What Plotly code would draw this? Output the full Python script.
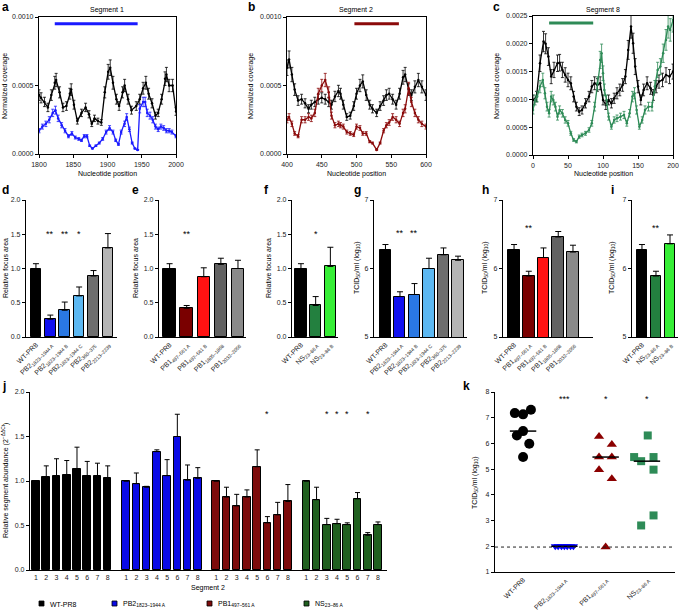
import numpy as np
import plotly.graph_objects as go

W, H = 679, 611
FONT = 'Liberation Sans'

#------------------------------------------------------------------
# a-c : normalized coverage (values x 1e-4)
#------------------------------------------------------------------
seg1_pos = [1800, 1803, 1808, 1813, 1818, 1823, 1825, 1830, 1835, 1840, 1845, 1847, 1851, 1856, 1862,
            1868, 1873, 1877, 1881, 1886, 1891, 1896, 1901, 1904, 1908, 1913, 1917, 1922, 1925, 1930,
            1935, 1942, 1947, 1952, 1956, 1960, 1965, 1970, 1974, 1979, 1984, 1986, 1990, 1995, 2000]
seg1_wt = [4.3, 4.1, 3.8, 3.4, 4.3, 5.2, 5.4, 4.5, 3.4, 3.5, 4.4, 4.7, 3.6, 2.4, 3.0,
           3.4, 2.9, 2.2, 2.6, 2.4, 2.3, 4.5, 6.0, 6.3, 5.2, 4.0, 3.5, 4.5, 5.0, 4.0,
           3.2, 3.5, 4.0, 4.8, 5.2, 4.4, 3.7, 2.8, 3.0, 4.0, 5.5, 5.8, 5.0, 5.0, 3.1]
seg1_mut_pos = [1800, 1805, 1810, 1815, 1820, 1824, 1828, 1833, 1838, 1843, 1848, 1853, 1858, 1862, 1866,
                1870, 1874, 1878, 1883, 1888, 1893, 1898, 1903, 1908, 1912, 1916, 1920, 1925, 1928, 1932,
                1936, 1940, 1944, 1947, 1952, 1955, 1958, 1962, 1966, 1970, 1974, 1978, 1982, 1986, 1990,
                1994, 2000]
seg1_mut = [1.7, 2.0, 2.2, 2.5, 3.0, 3.2, 2.6, 2.1, 1.7, 1.3, 1.5, 1.2, 1.1, 1.0, 1.3,
            1.3, 0.6, 0.4, 0.6, 0.8, 1.1, 1.6, 1.9, 1.6, 1.0, 0.7, 1.6, 2.2, 2.7, 1.8,
            0.8, 0.4, 0.3, 3.3, 3.8, 3.8, 3.0, 2.8, 2.5, 2.0, 1.8, 2.0, 1.9, 1.7, 1.7,
            1.6, 1.3]

seg2_pos = [400, 403, 407, 411, 416, 421, 426, 431, 435, 440, 445, 450, 455, 460, 464,
            469, 474, 477, 481, 486, 491, 496, 500, 505, 509, 514, 519, 523, 529, 534,
            539, 543, 547, 552, 557, 562, 567, 570, 575, 579, 584, 589, 594, 600]
seg2_wt = [6.3, 6.9, 5.8, 4.7, 3.9, 4.0, 3.7, 3.3, 3.6, 3.8, 4.0, 4.1, 4.0, 3.8, 3.6,
           4.2, 4.6, 4.4, 3.6, 2.7, 2.8, 3.5, 4.4, 5.0, 5.3, 4.3, 3.6, 3.3, 3.0, 3.5,
           3.9, 4.3, 4.4, 4.0, 3.6, 4.4, 5.6, 5.8, 4.7, 4.3, 4.9, 5.4, 4.9, 4.3]
seg2_mut = [2.5, 2.7, 2.2, 1.5, 1.3, 2.5, 2.5, 2.7, 2.6, 3.0, 4.4, 5.0, 5.4, 4.5, 2.8,
            2.1, 2.2, 2.1, 2.0, 1.6, 1.5, 1.4, 2.0, 1.9, 1.5, 1.5, 0.9, 0.8, 0.3, 0.8,
            1.7, 2.1, 2.3, 2.7, 2.5, 2.2, 3.0, 3.3, 4.8, 3.8, 3.0, 2.5, 2.2, 2.0]

seg8_pos = [0, 5, 10, 15, 18, 22, 26, 30, 35, 38, 42, 46, 50, 54, 58,
            62, 66, 70, 75, 80, 84, 88, 92, 96, 100, 104, 108, 112, 116, 120,
            124, 128, 132, 136, 140, 143, 146, 150, 154, 158, 163, 168, 172, 176, 180,
            185, 190, 195, 200]
seg8_wt = [9.9, 10.5, 16.5, 20.4, 20.0, 17.7, 14.1, 15.3, 16.5, 16.6, 15.3, 14.4, 13.5, 12.9, 10.5,
           8.7, 7.8, 8.1, 9.3, 10.5, 12.3, 12.9, 12.6, 12.9, 9.9, 9.0, 9.9, 9.3, 10.2, 11.1,
           11.7, 12.6, 14.1, 18.9, 23.1, 20.1, 15.9, 12.3, 9.9, 11.7, 12.9, 12.0, 10.8, 12.3, 13.2,
           13.5, 14.4, 14.1, 15.0]
seg8_mut_pos = [0, 3, 6, 10, 14, 17, 20, 23, 26, 29, 32, 35, 38, 42, 46,
                50, 54, 58, 62, 66, 70, 75, 80, 84, 88, 92, 96, 98, 100, 102,
                105, 108, 112, 116, 120, 125, 130, 134, 138, 142, 145, 148, 152, 156, 160,
                165, 170, 174, 178, 182, 186, 190, 193, 196, 200]
seg8_mut = [8.1, 9.9, 10.5, 12.3, 13.5, 11.1, 8.7, 7.5, 10.5, 9.9, 8.7, 6.9, 8.1, 7.5, 6.3,
            5.7, 3.9, 2.7, 2.4, 3.3, 3.6, 3.9, 4.5, 5.7, 8.7, 12.9, 17.1, 18.3, 14.7, 11.7,
            9.9, 6.9, 5.1, 6.3, 6.6, 6.9, 7.2, 5.7, 7.5, 10.5, 11.1, 8.1, 5.1, 6.3, 8.1,
            8.7, 8.7, 12.3, 15.3, 15.9, 18.3, 20.7, 23.1, 22.5, 24.3]

# mutated regions (nt)
seg1_region = [1823, 1944]
seg2_region = [497, 561]
seg8_region = [23, 86]

#------------------------------------------------------------------
# d-i : focus area and titres
#------------------------------------------------------------------
pb2_names = ['WT-PR8', 'PB2<sub>1823–1944 A</sub>', 'PB2<sub>1823–1944 B</sub>',
             'PB2<sub>1823–1944 C</sub>', 'PB2<sub>360–375</sub>', 'PB2<sub>2213–2239</sub>']
pb1_names = ['WT-PR8', 'PB1<sub>497–561 A</sub>', 'PB1<sub>497–561 B</sub>',
             'PB1<sub>1805–1868</sub>', 'PB1<sub>2032–2056</sub>']
ns_names = ['WT-PR8', 'NS<sub>23–86 A</sub>', 'NS<sub>23–86 B</sub>']

focus_pb2 = [1.00, 0.26, 0.39, 0.60, 0.89, 1.30]
focus_pb2_err = [0.07, 0.06, 0.12, 0.13, 0.08, 0.21]
focus_pb2_sig = ['', '**', '**', '*', '', '']
focus_pb1 = [1.00, 0.42, 0.88, 1.06, 1.00]
focus_pb1_err = [0.07, 0.04, 0.13, 0.09, 0.12]
focus_pb1_sig = ['', '**', '', '', '']
focus_ns = [1.00, 0.46, 1.03]
focus_ns_err = [0.07, 0.13, 0.28]
focus_ns_sig = ['', '*', '']

titer_pb2 = [6.27, 5.59, 5.62, 6.00, 6.20, 6.12]
titer_pb2_err = [0.08, 0.07, 0.16, 0.15, 0.10, 0.06]
titer_pb2_sig = ['', '**', '**', '', '', '']
titer_pb1 = [6.27, 5.89, 6.16, 6.46, 6.24]
titer_pb1_err = [0.08, 0.07, 0.14, 0.08, 0.10]
titer_pb1_sig = ['', '**', '', '', '']
titer_ns = [6.27, 5.89, 6.36]
titer_ns_err = [0.08, 0.07, 0.13]
titer_ns_sig = ['', '**', '']

#------------------------------------------------------------------
# j : relative segment abundance
#------------------------------------------------------------------
segments = ['1', '2', '3', '4', '5', '6', '7', '8']
abund_names = ['WT-PR8', 'PB2<sub>1823–1944 A</sub>', 'PB1<sub>497–561 A</sub>', 'NS<sub>23–86 A</sub>']
abund_wt = [1.00, 1.04, 1.06, 1.07, 1.14, 1.06, 1.06, 1.03]
abund_wt_err = [0.0, 0.13, 0.19, 0.16, 0.24, 0.16, 0.14, 0.14]
abund_pb2 = [1.00, 0.97, 0.93, 1.33, 1.06, 1.50, 1.01, 1.03]
abund_pb2_err = [0.0, 0.12, 0.01, 0.02, 0.18, 0.25, 0.17, 0.12]
abund_pb1 = [1.00, 0.82, 0.72, 0.82, 1.16, 0.53, 0.62, 0.77]
abund_pb1_err = [0.0, 0.11, 0.13, 0.08, 0.19, 0.07, 0.14, 0.19]
abund_ns = [1.00, 0.79, 0.51, 0.52, 0.51, 0.80, 0.39, 0.51]
abund_ns_err = [0.0, 0.14, 0.07, 0.05, 0.02, 0.07, 0.03, 0.03]
abund_pb1_sig = ['', '', '', '', '', '*', '', '']
abund_ns_sig = ['', '', '*', '*', '*', '', '*', '']

#------------------------------------------------------------------
# k : titres in mice (log10 TCID50/ml)
#------------------------------------------------------------------
mice_wt = [7.18, 7.13, 7.31, 6.31, 6.48, 5.99, 5.47]
mice_pb2 = [2.0, 2.0, 2.0, 2.0, 2.0, 2.0, 2.0]
mice_pb1 = [6.27, 5.96, 5.47, 5.47, 4.98, 4.63, 1.97]
mice_ns = [6.31, 5.47, 5.31, 5.47, 4.98, 3.20, 2.81]
mice_sig = ['', '***', '*', '*']
detect_limit = 1.97

# horizontal spread of the dots (layout only)
jit_wt = [-0.20, 0.0, 0.19, -0.15, 0.0, 0.15, 0.0]
jit_pb2 = [-0.22, -0.15, -0.07, 0.0, 0.07, 0.15, 0.22]
jit_pb1 = [-0.16, 0.15, -0.16, 0.15, -0.16, 0.15, 0.0]
jit_ns = [0.02, -0.31, -0.14, 0.16, 0.16, 0.16, -0.14]

# colours
C_PB2 = ['black', '#1010f0', '#2a78e4', '#5cb8f2', '#6e6e6e', '#b4b4b4']
C_PB1 = ['black', '#7a0000', '#ff1212', '#626262', '#8a8a8a']
C_NS = ['black', '#23803f', '#36ee36']
C_J = ['black', '#0a0ae6', '#7d0b0b', '#20601f']

#------------------------------------------------------------------
def xd(p):
   return p / W

def yd(p):
   return 1 - p / H

def sfx(n):
   return '' if n == 1 else str(n)

fig = go.Figure()

base = dict(showline=True, linecolor='black', linewidth=1.2, showgrid=False, zeroline=False,
            ticks='outside', ticklen=3, tickwidth=1, tickcolor='black', automargin=False,
            tickfont=dict(family=FONT, size=7, color='#222'), fixedrange=True)

def axes(n, x0, x1, y0, y1, xopt, yopt):
   xa = dict(base); xa.update(domain=[xd(x0), xd(x1)], anchor='y' + sfx(n)); xa.update(xopt)
   ya = dict(base); ya.update(domain=[yd(y1), yd(y0)], anchor='x' + sfx(n)); ya.update(yopt)
   fig.update_layout({'xaxis' + sfx(n): xa, 'yaxis' + sfx(n): ya})

def note(text, x, y, size=7, angle=0, bold=False, xanchor='center'):
   if bold: text = '<b>' + text + '</b>'
   fig.add_annotation(text=text, x=xd(x), y=yd(y), xref='paper', yref='paper', showarrow=False,
                      textangle=angle, xanchor=xanchor, yanchor='middle',
                      font=dict(family=FONT, size=size, color='black'))

#---------------- a-c ----------------
def coverage(n, pos, vals, color):
   fig.add_trace(go.Scatter(x=pos, y=np.array(vals) * 1e-4, mode='lines+markers',
                            line=dict(color=color, width=1.3), marker=dict(size=2.5, color=color),
                            error_y=dict(type='percent', value=9, color=color, thickness=0.8, width=1.5),
                            xaxis='x' + sfx(n), yaxis='y' + sfx(n), showlegend=False))

def region(n, reg, color):
   fig.add_shape(type='line', xref='x' + sfx(n), yref='y' + sfx(n) + ' domain', x0=reg[0], x1=reg[1],
                 y0=0.95, y1=0.95, line=dict(color=color, width=3))

box = dict(mirror=True)
axes(1, 39, 176, 17, 154, dict(box, range=[1800, 2000], tickvals=[1800, 1850, 1900, 1950, 2000]),
     dict(box, range=[0, 0.001], tickvals=[0, 0.0005, 0.001], tickformat='.4f'))
axes(2, 287, 426, 17, 154, dict(box, range=[400, 600], tickvals=[400, 450, 500, 550, 600]),
     dict(box, range=[0, 0.001], tickvals=[0, 0.0005, 0.001], tickformat='.4f'))
axes(3, 533, 673, 16, 155, dict(box, range=[0, 200], tickvals=[0, 50, 100, 150, 200]),
     dict(box, range=[0, 0.0025], tickvals=[0, 0.0005, 0.001, 0.0015, 0.002, 0.0025], tickformat='.4f'))

coverage(1, seg1_pos, seg1_wt, 'black')
coverage(1, seg1_mut_pos, seg1_mut, '#1a1aff')
coverage(2, seg2_pos, seg2_wt, 'black')
coverage(2, seg2_pos, seg2_mut, '#8b0a0a')
coverage(3, seg8_pos, seg8_wt, 'black')
coverage(3, seg8_mut_pos, seg8_mut, '#2e8b57')
region(1, seg1_region, '#1a1aff')
region(2, seg2_region, '#8b0a0a')
region(3, seg8_region, '#2e8b57')

for (cx, t) in [(107, 'Segment 1'), (356, 'Segment 2'), (603, 'Segment 8')]:
   note(t, cx, 10)
   note('Nucleotide position', cx, 174)
for xx in [5, 251, 497]:
   note('Normalized coverage', xx, 86, angle=-90)

#---------------- d-i ----------------
def bars(n, vals, errs, colors, sig, width, star_y):
   fig.add_trace(go.Bar(x=list(range(len(vals))), y=vals, width=width,
                        marker=dict(color=colors, line=dict(color='black', width=1)),
                        error_y=dict(type='data', array=errs, arrayminus=[0] * len(vals), symmetric=False,
                                     color='black', thickness=1, width=3),
                        xaxis='x' + sfx(n), yaxis='y' + sfx(n), showlegend=False))
   for i, s in enumerate(sig):
      if s:
         fig.add_annotation(text=s, x=i, y=star_y, xref='x' + sfx(n), yref='y' + sfx(n), showarrow=False,
                            font=dict(family=FONT, size=9, color='black'))

def cat_x(names, rng):
   return dict(range=rng, tickvals=list(range(len(names))), ticktext=names, tickangle=-45, ticks='')

focus_y = dict(range=[0, 2], tickvals=[0, 0.5, 1.0, 1.5, 2.0], tickformat='.1f')
titer_y = dict(range=[5, 7], tickvals=[5, 6, 7])

axes(4, 26, 117, 200, 337, cat_x(pb2_names, [-0.69, 5.63]), focus_y)
axes(5, 159, 246, 200, 337, cat_x(pb1_names, [-0.62, 4.47]), focus_y)
axes(6, 292, 338, 200, 337, cat_x(ns_names, [-0.61, 2.52]), focus_y)
axes(7, 374, 467, 200, 337, cat_x(pb2_names, [-0.79, 5.62]), titer_y)
axes(8, 503, 593, 200, 337, cat_x(pb1_names, [-0.75, 5.36]), titer_y)
axes(9, 632, 678, 200, 337, cat_x(ns_names, [-0.71, 2.57]), titer_y)

bars(4, focus_pb2, focus_pb2_err, C_PB2, focus_pb2_sig, 0.74, 1.5)
bars(5, focus_pb1, focus_pb1_err, C_PB1, focus_pb1_sig, 0.73, 1.5)
bars(6, focus_ns, focus_ns_err, C_NS, focus_ns_sig, 0.78, 1.5)
bars(7, titer_pb2, titer_pb2_err, C_PB2, titer_pb2_sig, 0.76, 6.52)
bars(8, titer_pb1, titer_pb1_err, C_PB1, titer_pb1_sig, 0.78, 6.59)
bars(9, titer_ns, titer_ns_err, C_NS, titer_ns_sig, 0.75, 6.59)

for xx in [5, 135, 268]:
   note('Relative focus area', xx, 268, angle=-90)
for xx in [357, 485, 612]:
   note('TCID<sub>50</sub>/ml (log<sub>10</sub>)', xx, 268, angle=-90)

#---------------- j ----------------
GAP = 8.8
jpos = [[g * GAP + k for k in range(len(segments))] for g in range(4)]
axes(10, 30, 387, 392, 570,
     dict(range=[-0.59, 34.28], tickvals=sum(jpos, []), ticktext=segments * 4, ticks=''),
     dict(range=[0, 2], tickvals=[0, 0.5, 1.0, 1.5, 2.0], tickformat='.1f'))

groups = [(abund_wt, abund_wt_err, None), (abund_pb2, abund_pb2_err, None),
          (abund_pb1, abund_pb1_err, abund_pb1_sig), (abund_ns, abund_ns_err, abund_ns_sig)]
for g, (vals, errs, sig) in enumerate(groups):
   fig.add_trace(go.Bar(x=jpos[g], y=vals, width=0.74,
                        marker=dict(color=C_J[g], line=dict(color='black', width=1)),
                        error_y=dict(type='data', array=errs, arrayminus=[0] * len(vals), symmetric=False,
                                     color='black', thickness=1, width=2.5),
                        xaxis='x10', yaxis='y10', showlegend=False))
   if sig:
      for k, s in enumerate(sig):
         if s:
            fig.add_annotation(text=s, x=jpos[g][k], y=1.75, xref='x10', yref='y10', showarrow=False,
                               font=dict(family=FONT, size=9, color='black'))

note('Segment 2', 208, 588)
note('Relative segment abundance (2<sup>−ΔΔCt</sup>)', 5, 481, angle=-90)

# legend of j
for (sx, name, col) in zip([39, 112, 207, 304], abund_names, C_J):
   fig.add_shape(type='rect', xref='paper', yref='paper', x0=xd(sx), x1=xd(sx + 5),
                 y0=yd(606), y1=yd(601), fillcolor=col, line=dict(color='black', width=0.8))
   note(name, sx + 9, 604, xanchor='left')

#---------------- k ----------------
axes(11, 495, 675, 392, 572,
     dict(range=[-0.68, 3.68], tickvals=[0, 1, 2, 3], ticktext=abund_names, tickangle=-45, ticks=''),
     dict(range=[1, 8], tickvals=[1, 2, 3, 4, 5, 6, 7, 8]))

mice = [(mice_wt, jit_wt, 'circle', 10, 'black'),
        (mice_pb2, jit_pb2, 'triangle-down', 8, '#0000ff'),
        (mice_pb1, jit_pb1, 'triangle-up', 9, '#8b0000'),
        (mice_ns, jit_ns, 'square', 8, '#2e8b57')]
for g, (vals, jit, sym, sz, col) in enumerate(mice):
   fig.add_trace(go.Scatter(x=[g + j for j in jit], y=vals, mode='markers',
                            marker=dict(symbol=sym, size=sz, color=col),
                            xaxis='x11', yaxis='y11', showlegend=False))
   med = float(np.median(vals))
   fig.add_trace(go.Scatter(x=[g - 0.32, g + 0.32], y=[med, med], mode='lines',
                            line=dict(color='black', width=1.5), xaxis='x11', yaxis='y11', showlegend=False))
   if mice_sig[g]:
      fig.add_annotation(text=mice_sig[g], x=g, y=7.73, xref='x11', yref='y11', showarrow=False,
                         font=dict(family=FONT, size=9, color='black'))

fig.add_shape(type='line', xref='x11', yref='y11', x0=-0.68, x1=3.75, y0=detect_limit, y1=detect_limit,
              line=dict(color='#222', width=1, dash='dot'))
note('TCID<sub>50</sub>/ml (log<sub>10</sub>)', 475, 482, angle=-90)

#---------------- panel letters ----------------
for (t, x, y) in [('a', 5, 7), ('b', 251, 7), ('c', 497, 7), ('d', 5, 190), ('e', 135, 190),
                  ('f', 266, 190), ('g', 357, 190), ('h', 485, 190), ('i', 612, 190),
                  ('j', 4, 386), ('k', 466, 386)]:
   note(t, x, y, size=12, bold=True)

fig.update_layout(width=W, height=H, margin=dict(l=0, r=0, t=0, b=0), template='none',
                  paper_bgcolor='white', plot_bgcolor='white', bargap=0,
                  font=dict(family=FONT, size=7, color='black'))

# page body has a default margin; drop it so the figure sits at the window origin
fig.write_html("out.html", config={'displayModeBar': False},
               post_script="document.body.style.margin='0';")
